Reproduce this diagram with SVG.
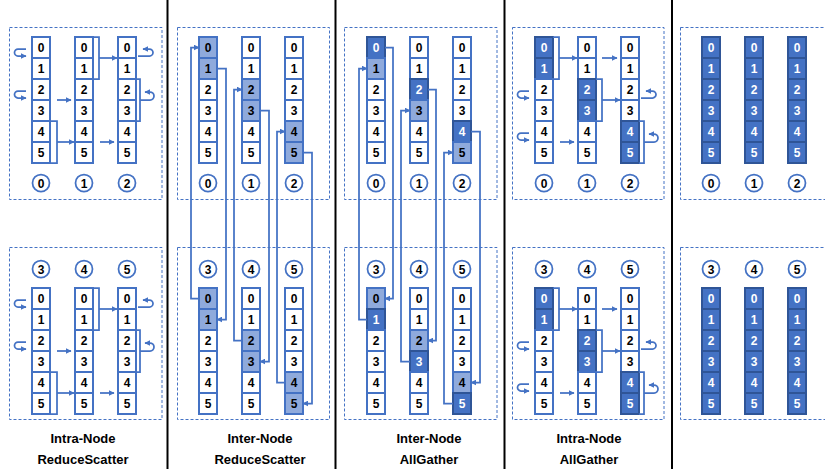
<svg xmlns="http://www.w3.org/2000/svg" width="825" height="469" viewBox="0 0 825 469">
<style>
.c{fill:#fff;stroke:#4472C4;stroke-width:2}
.l{fill:#8FAADC;stroke:#4472C4;stroke-width:2}
.d{fill:#4472C4;stroke:#2F5597;stroke-width:2}
text{font-family:"Liberation Sans",Arial,sans-serif;font-weight:bold;font-size:12px;text-anchor:middle;fill:#000}
text.w{fill:#fff}
.rk{fill:#fff;stroke:#4472C4;stroke-width:1.75}
text.cap{font-size:13px}
.box{fill:none;stroke:#4472C4;stroke-width:1;stroke-dasharray:3 2}
.sep{stroke:#000;stroke-width:2}
.cn{fill:none;stroke:#4472C4;stroke-width:1.75}
.ar{marker-end:url(#ah)}
</style>
<defs>
<marker id="ah" viewBox="0 0 10 10" refX="9" refY="5" markerWidth="6" markerHeight="6" markerUnits="userSpaceOnUse" orient="auto"><path d="M0,0 L10,5 L0,10 z" fill="#4472C4"/></marker>
</defs>
<rect width="825" height="469" fill="#fff"/>
<g id="frames">
<rect class="box" x="9.5" y="27.5" width="152.5" height="172"/>
<rect class="box" x="9.5" y="247.5" width="152.5" height="172"/>
<rect class="box" x="177.5" y="27.5" width="152" height="172"/>
<rect class="box" x="177.5" y="247.5" width="152" height="172"/>
<rect class="box" x="344.5" y="27.5" width="152.5" height="172"/>
<rect class="box" x="344.5" y="247.5" width="152.5" height="172"/>
<rect class="box" x="512.5" y="27.5" width="151.5" height="172"/>
<rect class="box" x="512.5" y="247.5" width="151.5" height="172"/>
<rect class="box" x="680.5" y="27.5" width="152" height="172"/>
<rect class="box" x="680.5" y="247.5" width="152" height="172"/>
<line class="sep" x1="167.5" y1="0" x2="167.5" y2="469"/>
<line class="sep" x1="335.5" y1="0" x2="335.5" y2="469"/>
<line class="sep" x1="504.5" y1="0" x2="504.5" y2="469"/>
<line class="sep" x1="672" y1="0" x2="672" y2="469"/>
</g>

<!-- Panel 1 -->
<g id="p1-t-c0" transform="translate(32,37)"><rect y="0" width="18" height="21" class="c"/><text x="9" y="15">0</text><rect y="21" width="18" height="21" class="c"/><text x="9" y="36">1</text><rect y="42" width="18" height="21" class="c"/><text x="9" y="57">2</text><rect y="63" width="18" height="21" class="c"/><text x="9" y="78">3</text><rect y="84" width="18" height="21" class="c"/><text x="9" y="99">4</text><rect y="105" width="18" height="21" class="c"/><text x="9" y="120">5</text></g>
<g id="p1-t-c1" transform="translate(75,37)"><rect y="0" width="18" height="21" class="c"/><text x="9" y="15">0</text><rect y="21" width="18" height="21" class="c"/><text x="9" y="36">1</text><rect y="42" width="18" height="21" class="c"/><text x="9" y="57">2</text><rect y="63" width="18" height="21" class="c"/><text x="9" y="78">3</text><rect y="84" width="18" height="21" class="c"/><text x="9" y="99">4</text><rect y="105" width="18" height="21" class="c"/><text x="9" y="120">5</text></g>
<g id="p1-t-c2" transform="translate(118,37)"><rect y="0" width="18" height="21" class="c"/><text x="9" y="15">0</text><rect y="21" width="18" height="21" class="c"/><text x="9" y="36">1</text><rect y="42" width="18" height="21" class="c"/><text x="9" y="57">2</text><rect y="63" width="18" height="21" class="c"/><text x="9" y="78">3</text><rect y="84" width="18" height="21" class="c"/><text x="9" y="99">4</text><rect y="105" width="18" height="21" class="c"/><text x="9" y="120">5</text></g>
<g id="p1-b-c0" transform="translate(32,288)"><rect y="0" width="18" height="21" class="c"/><text x="9" y="15">0</text><rect y="21" width="18" height="21" class="c"/><text x="9" y="36">1</text><rect y="42" width="18" height="21" class="c"/><text x="9" y="57">2</text><rect y="63" width="18" height="21" class="c"/><text x="9" y="78">3</text><rect y="84" width="18" height="21" class="c"/><text x="9" y="99">4</text><rect y="105" width="18" height="21" class="c"/><text x="9" y="120">5</text></g>
<g id="p1-b-c1" transform="translate(75,288)"><rect y="0" width="18" height="21" class="c"/><text x="9" y="15">0</text><rect y="21" width="18" height="21" class="c"/><text x="9" y="36">1</text><rect y="42" width="18" height="21" class="c"/><text x="9" y="57">2</text><rect y="63" width="18" height="21" class="c"/><text x="9" y="78">3</text><rect y="84" width="18" height="21" class="c"/><text x="9" y="99">4</text><rect y="105" width="18" height="21" class="c"/><text x="9" y="120">5</text></g>
<g id="p1-b-c2" transform="translate(118,288)"><rect y="0" width="18" height="21" class="c"/><text x="9" y="15">0</text><rect y="21" width="18" height="21" class="c"/><text x="9" y="36">1</text><rect y="42" width="18" height="21" class="c"/><text x="9" y="57">2</text><rect y="63" width="18" height="21" class="c"/><text x="9" y="78">3</text><rect y="84" width="18" height="21" class="c"/><text x="9" y="99">4</text><rect y="105" width="18" height="21" class="c"/><text x="9" y="120">5</text></g>
<g id="p1-rank0"><circle cx="41" cy="183" r="8.5" class="rk"/><text x="41" y="187.5">0</text></g>
<g id="p1-rank1"><circle cx="84" cy="183" r="8.5" class="rk"/><text x="84" y="187.5">1</text></g>
<g id="p1-rank2"><circle cx="127" cy="183" r="8.5" class="rk"/><text x="127" y="187.5">2</text></g>
<g id="p1-rank3"><circle cx="41" cy="269" r="8.5" class="rk"/><text x="41" y="273.5">3</text></g>
<g id="p1-rank4"><circle cx="84" cy="269" r="8.5" class="rk"/><text x="84" y="273.5">4</text></g>
<g id="p1-rank5"><circle cx="127" cy="269" r="8.5" class="rk"/><text x="127" y="273.5">5</text></g>

<!-- Panel 2 -->
<g id="p2-t-c0" transform="translate(199,37)"><rect y="0" width="18" height="21" class="l"/><text x="9" y="15">0</text><rect y="21" width="18" height="21" class="l"/><text x="9" y="36">1</text><rect y="42" width="18" height="21" class="c"/><text x="9" y="57">2</text><rect y="63" width="18" height="21" class="c"/><text x="9" y="78">3</text><rect y="84" width="18" height="21" class="c"/><text x="9" y="99">4</text><rect y="105" width="18" height="21" class="c"/><text x="9" y="120">5</text></g>
<g id="p2-t-c1" transform="translate(242,37)"><rect y="0" width="18" height="21" class="c"/><text x="9" y="15">0</text><rect y="21" width="18" height="21" class="c"/><text x="9" y="36">1</text><rect y="42" width="18" height="21" class="l"/><text x="9" y="57">2</text><rect y="63" width="18" height="21" class="l"/><text x="9" y="78">3</text><rect y="84" width="18" height="21" class="c"/><text x="9" y="99">4</text><rect y="105" width="18" height="21" class="c"/><text x="9" y="120">5</text></g>
<g id="p2-t-c2" transform="translate(285,37)"><rect y="0" width="18" height="21" class="c"/><text x="9" y="15">0</text><rect y="21" width="18" height="21" class="c"/><text x="9" y="36">1</text><rect y="42" width="18" height="21" class="c"/><text x="9" y="57">2</text><rect y="63" width="18" height="21" class="c"/><text x="9" y="78">3</text><rect y="84" width="18" height="21" class="l"/><text x="9" y="99">4</text><rect y="105" width="18" height="21" class="l"/><text x="9" y="120">5</text></g>
<g id="p2-b-c0" transform="translate(199,288)"><rect y="0" width="18" height="21" class="l"/><text x="9" y="15">0</text><rect y="21" width="18" height="21" class="l"/><text x="9" y="36">1</text><rect y="42" width="18" height="21" class="c"/><text x="9" y="57">2</text><rect y="63" width="18" height="21" class="c"/><text x="9" y="78">3</text><rect y="84" width="18" height="21" class="c"/><text x="9" y="99">4</text><rect y="105" width="18" height="21" class="c"/><text x="9" y="120">5</text></g>
<g id="p2-b-c1" transform="translate(242,288)"><rect y="0" width="18" height="21" class="c"/><text x="9" y="15">0</text><rect y="21" width="18" height="21" class="c"/><text x="9" y="36">1</text><rect y="42" width="18" height="21" class="l"/><text x="9" y="57">2</text><rect y="63" width="18" height="21" class="l"/><text x="9" y="78">3</text><rect y="84" width="18" height="21" class="c"/><text x="9" y="99">4</text><rect y="105" width="18" height="21" class="c"/><text x="9" y="120">5</text></g>
<g id="p2-b-c2" transform="translate(285,288)"><rect y="0" width="18" height="21" class="c"/><text x="9" y="15">0</text><rect y="21" width="18" height="21" class="c"/><text x="9" y="36">1</text><rect y="42" width="18" height="21" class="c"/><text x="9" y="57">2</text><rect y="63" width="18" height="21" class="c"/><text x="9" y="78">3</text><rect y="84" width="18" height="21" class="l"/><text x="9" y="99">4</text><rect y="105" width="18" height="21" class="l"/><text x="9" y="120">5</text></g>
<g id="p2-rank0"><circle cx="208" cy="183" r="8.5" class="rk"/><text x="208" y="187.5">0</text></g>
<g id="p2-rank1"><circle cx="251" cy="183" r="8.5" class="rk"/><text x="251" y="187.5">1</text></g>
<g id="p2-rank2"><circle cx="294" cy="183" r="8.5" class="rk"/><text x="294" y="187.5">2</text></g>
<g id="p2-rank3"><circle cx="208" cy="269" r="8.5" class="rk"/><text x="208" y="273.5">3</text></g>
<g id="p2-rank4"><circle cx="251" cy="269" r="8.5" class="rk"/><text x="251" y="273.5">4</text></g>
<g id="p2-rank5"><circle cx="294" cy="269" r="8.5" class="rk"/><text x="294" y="273.5">5</text></g>

<!-- Panel 3 -->
<g id="p3-t-c0" transform="translate(367,37)"><rect y="0" width="18" height="21" class="d"/><text class="w" x="9" y="15">0</text><rect y="21" width="18" height="21" class="l"/><text x="9" y="36">1</text><rect y="42" width="18" height="21" class="c"/><text x="9" y="57">2</text><rect y="63" width="18" height="21" class="c"/><text x="9" y="78">3</text><rect y="84" width="18" height="21" class="c"/><text x="9" y="99">4</text><rect y="105" width="18" height="21" class="c"/><text x="9" y="120">5</text></g>
<g id="p3-t-c1" transform="translate(410,37)"><rect y="0" width="18" height="21" class="c"/><text x="9" y="15">0</text><rect y="21" width="18" height="21" class="c"/><text x="9" y="36">1</text><rect y="42" width="18" height="21" class="d"/><text class="w" x="9" y="57">2</text><rect y="63" width="18" height="21" class="l"/><text x="9" y="78">3</text><rect y="84" width="18" height="21" class="c"/><text x="9" y="99">4</text><rect y="105" width="18" height="21" class="c"/><text x="9" y="120">5</text></g>
<g id="p3-t-c2" transform="translate(453,37)"><rect y="0" width="18" height="21" class="c"/><text x="9" y="15">0</text><rect y="21" width="18" height="21" class="c"/><text x="9" y="36">1</text><rect y="42" width="18" height="21" class="c"/><text x="9" y="57">2</text><rect y="63" width="18" height="21" class="c"/><text x="9" y="78">3</text><rect y="84" width="18" height="21" class="d"/><text class="w" x="9" y="99">4</text><rect y="105" width="18" height="21" class="l"/><text x="9" y="120">5</text></g>
<g id="p3-b-c0" transform="translate(367,288)"><rect y="0" width="18" height="21" class="l"/><text x="9" y="15">0</text><rect y="21" width="18" height="21" class="d"/><text class="w" x="9" y="36">1</text><rect y="42" width="18" height="21" class="c"/><text x="9" y="57">2</text><rect y="63" width="18" height="21" class="c"/><text x="9" y="78">3</text><rect y="84" width="18" height="21" class="c"/><text x="9" y="99">4</text><rect y="105" width="18" height="21" class="c"/><text x="9" y="120">5</text></g>
<g id="p3-b-c1" transform="translate(410,288)"><rect y="0" width="18" height="21" class="c"/><text x="9" y="15">0</text><rect y="21" width="18" height="21" class="c"/><text x="9" y="36">1</text><rect y="42" width="18" height="21" class="l"/><text x="9" y="57">2</text><rect y="63" width="18" height="21" class="d"/><text class="w" x="9" y="78">3</text><rect y="84" width="18" height="21" class="c"/><text x="9" y="99">4</text><rect y="105" width="18" height="21" class="c"/><text x="9" y="120">5</text></g>
<g id="p3-b-c2" transform="translate(453,288)"><rect y="0" width="18" height="21" class="c"/><text x="9" y="15">0</text><rect y="21" width="18" height="21" class="c"/><text x="9" y="36">1</text><rect y="42" width="18" height="21" class="c"/><text x="9" y="57">2</text><rect y="63" width="18" height="21" class="c"/><text x="9" y="78">3</text><rect y="84" width="18" height="21" class="l"/><text x="9" y="99">4</text><rect y="105" width="18" height="21" class="d"/><text class="w" x="9" y="120">5</text></g>
<g id="p3-rank0"><circle cx="376" cy="183" r="8.5" class="rk"/><text x="376" y="187.5">0</text></g>
<g id="p3-rank1"><circle cx="419" cy="183" r="8.5" class="rk"/><text x="419" y="187.5">1</text></g>
<g id="p3-rank2"><circle cx="462" cy="183" r="8.5" class="rk"/><text x="462" y="187.5">2</text></g>
<g id="p3-rank3"><circle cx="376" cy="269" r="8.5" class="rk"/><text x="376" y="273.5">3</text></g>
<g id="p3-rank4"><circle cx="419" cy="269" r="8.5" class="rk"/><text x="419" y="273.5">4</text></g>
<g id="p3-rank5"><circle cx="462" cy="269" r="8.5" class="rk"/><text x="462" y="273.5">5</text></g>

<!-- Panel 4 -->
<g id="p4-t-c0" transform="translate(535,37)"><rect y="0" width="18" height="21" class="d"/><text class="w" x="9" y="15">0</text><rect y="21" width="18" height="21" class="d"/><text class="w" x="9" y="36">1</text><rect y="42" width="18" height="21" class="c"/><text x="9" y="57">2</text><rect y="63" width="18" height="21" class="c"/><text x="9" y="78">3</text><rect y="84" width="18" height="21" class="c"/><text x="9" y="99">4</text><rect y="105" width="18" height="21" class="c"/><text x="9" y="120">5</text></g>
<g id="p4-t-c1" transform="translate(578,37)"><rect y="0" width="18" height="21" class="c"/><text x="9" y="15">0</text><rect y="21" width="18" height="21" class="c"/><text x="9" y="36">1</text><rect y="42" width="18" height="21" class="d"/><text class="w" x="9" y="57">2</text><rect y="63" width="18" height="21" class="d"/><text class="w" x="9" y="78">3</text><rect y="84" width="18" height="21" class="c"/><text x="9" y="99">4</text><rect y="105" width="18" height="21" class="c"/><text x="9" y="120">5</text></g>
<g id="p4-t-c2" transform="translate(621,37)"><rect y="0" width="18" height="21" class="c"/><text x="9" y="15">0</text><rect y="21" width="18" height="21" class="c"/><text x="9" y="36">1</text><rect y="42" width="18" height="21" class="c"/><text x="9" y="57">2</text><rect y="63" width="18" height="21" class="c"/><text x="9" y="78">3</text><rect y="84" width="18" height="21" class="d"/><text class="w" x="9" y="99">4</text><rect y="105" width="18" height="21" class="d"/><text class="w" x="9" y="120">5</text></g>
<g id="p4-b-c0" transform="translate(535,288)"><rect y="0" width="18" height="21" class="d"/><text class="w" x="9" y="15">0</text><rect y="21" width="18" height="21" class="d"/><text class="w" x="9" y="36">1</text><rect y="42" width="18" height="21" class="c"/><text x="9" y="57">2</text><rect y="63" width="18" height="21" class="c"/><text x="9" y="78">3</text><rect y="84" width="18" height="21" class="c"/><text x="9" y="99">4</text><rect y="105" width="18" height="21" class="c"/><text x="9" y="120">5</text></g>
<g id="p4-b-c1" transform="translate(578,288)"><rect y="0" width="18" height="21" class="c"/><text x="9" y="15">0</text><rect y="21" width="18" height="21" class="c"/><text x="9" y="36">1</text><rect y="42" width="18" height="21" class="d"/><text class="w" x="9" y="57">2</text><rect y="63" width="18" height="21" class="d"/><text class="w" x="9" y="78">3</text><rect y="84" width="18" height="21" class="c"/><text x="9" y="99">4</text><rect y="105" width="18" height="21" class="c"/><text x="9" y="120">5</text></g>
<g id="p4-b-c2" transform="translate(621,288)"><rect y="0" width="18" height="21" class="c"/><text x="9" y="15">0</text><rect y="21" width="18" height="21" class="c"/><text x="9" y="36">1</text><rect y="42" width="18" height="21" class="c"/><text x="9" y="57">2</text><rect y="63" width="18" height="21" class="c"/><text x="9" y="78">3</text><rect y="84" width="18" height="21" class="d"/><text class="w" x="9" y="99">4</text><rect y="105" width="18" height="21" class="d"/><text class="w" x="9" y="120">5</text></g>
<g id="p4-rank0"><circle cx="544" cy="183" r="8.5" class="rk"/><text x="544" y="187.5">0</text></g>
<g id="p4-rank1"><circle cx="587" cy="183" r="8.5" class="rk"/><text x="587" y="187.5">1</text></g>
<g id="p4-rank2"><circle cx="630" cy="183" r="8.5" class="rk"/><text x="630" y="187.5">2</text></g>
<g id="p4-rank3"><circle cx="544" cy="269" r="8.5" class="rk"/><text x="544" y="273.5">3</text></g>
<g id="p4-rank4"><circle cx="587" cy="269" r="8.5" class="rk"/><text x="587" y="273.5">4</text></g>
<g id="p4-rank5"><circle cx="630" cy="269" r="8.5" class="rk"/><text x="630" y="273.5">5</text></g>

<!-- Panel 5 -->
<g id="p5-t-c0" transform="translate(702,37)"><rect y="0" width="18" height="21" class="d"/><text class="w" x="9" y="15">0</text><rect y="21" width="18" height="21" class="d"/><text class="w" x="9" y="36">1</text><rect y="42" width="18" height="21" class="d"/><text class="w" x="9" y="57">2</text><rect y="63" width="18" height="21" class="d"/><text class="w" x="9" y="78">3</text><rect y="84" width="18" height="21" class="d"/><text class="w" x="9" y="99">4</text><rect y="105" width="18" height="21" class="d"/><text class="w" x="9" y="120">5</text></g>
<g id="p5-t-c1" transform="translate(745,37)"><rect y="0" width="18" height="21" class="d"/><text class="w" x="9" y="15">0</text><rect y="21" width="18" height="21" class="d"/><text class="w" x="9" y="36">1</text><rect y="42" width="18" height="21" class="d"/><text class="w" x="9" y="57">2</text><rect y="63" width="18" height="21" class="d"/><text class="w" x="9" y="78">3</text><rect y="84" width="18" height="21" class="d"/><text class="w" x="9" y="99">4</text><rect y="105" width="18" height="21" class="d"/><text class="w" x="9" y="120">5</text></g>
<g id="p5-t-c2" transform="translate(788,37)"><rect y="0" width="18" height="21" class="d"/><text class="w" x="9" y="15">0</text><rect y="21" width="18" height="21" class="d"/><text class="w" x="9" y="36">1</text><rect y="42" width="18" height="21" class="d"/><text class="w" x="9" y="57">2</text><rect y="63" width="18" height="21" class="d"/><text class="w" x="9" y="78">3</text><rect y="84" width="18" height="21" class="d"/><text class="w" x="9" y="99">4</text><rect y="105" width="18" height="21" class="d"/><text class="w" x="9" y="120">5</text></g>
<g id="p5-b-c0" transform="translate(702,288)"><rect y="0" width="18" height="21" class="d"/><text class="w" x="9" y="15">0</text><rect y="21" width="18" height="21" class="d"/><text class="w" x="9" y="36">1</text><rect y="42" width="18" height="21" class="d"/><text class="w" x="9" y="57">2</text><rect y="63" width="18" height="21" class="d"/><text class="w" x="9" y="78">3</text><rect y="84" width="18" height="21" class="d"/><text class="w" x="9" y="99">4</text><rect y="105" width="18" height="21" class="d"/><text class="w" x="9" y="120">5</text></g>
<g id="p5-b-c1" transform="translate(745,288)"><rect y="0" width="18" height="21" class="d"/><text class="w" x="9" y="15">0</text><rect y="21" width="18" height="21" class="d"/><text class="w" x="9" y="36">1</text><rect y="42" width="18" height="21" class="d"/><text class="w" x="9" y="57">2</text><rect y="63" width="18" height="21" class="d"/><text class="w" x="9" y="78">3</text><rect y="84" width="18" height="21" class="d"/><text class="w" x="9" y="99">4</text><rect y="105" width="18" height="21" class="d"/><text class="w" x="9" y="120">5</text></g>
<g id="p5-b-c2" transform="translate(788,288)"><rect y="0" width="18" height="21" class="d"/><text class="w" x="9" y="15">0</text><rect y="21" width="18" height="21" class="d"/><text class="w" x="9" y="36">1</text><rect y="42" width="18" height="21" class="d"/><text class="w" x="9" y="57">2</text><rect y="63" width="18" height="21" class="d"/><text class="w" x="9" y="78">3</text><rect y="84" width="18" height="21" class="d"/><text class="w" x="9" y="99">4</text><rect y="105" width="18" height="21" class="d"/><text class="w" x="9" y="120">5</text></g>
<g id="p5-rank0"><circle cx="711" cy="183" r="8.5" class="rk"/><text x="711" y="187.5">0</text></g>
<g id="p5-rank1"><circle cx="754" cy="183" r="8.5" class="rk"/><text x="754" y="187.5">1</text></g>
<g id="p5-rank2"><circle cx="797" cy="183" r="8.5" class="rk"/><text x="797" y="187.5">2</text></g>
<g id="p5-rank3"><circle cx="711" cy="269" r="8.5" class="rk"/><text x="711" y="273.5">3</text></g>
<g id="p5-rank4"><circle cx="754" cy="269" r="8.5" class="rk"/><text x="754" y="273.5">4</text></g>
<g id="p5-rank5"><circle cx="797" cy="269" r="8.5" class="rk"/><text x="797" y="273.5">5</text></g>

<g id="connectors">
<!-- Panel 1 top -->
<path class="cn ar" d="M26,49 H18 a3.5,3.5 0 0 0 0,7 H26"/>
<path class="cn ar" d="M26,91 H18 a3.5,3.5 0 0 0 0,7 H26"/>
<path class="cn" d="M50,121 H57 V163 H50"/>
<path class="cn ar" d="M57,142 H74"/>
<path class="cn ar" d="M57,100 H71"/>
<path class="cn" d="M93,37 H99 V79 H93"/>
<path class="cn ar" d="M99,58 H117"/>
<path class="cn ar" d="M100,142 H114"/>
<path class="cn ar" d="M138,56 H149.5 a3.5,3.5 0 0 0 0,-7 H143"/>
<path class="cn" d="M136,79 H140 V121 H136"/>
<path class="cn ar" d="M140,100 H150 a4,4 0 0 0 0,-8 H145"/>
<!-- Panel 1 bottom -->
<path class="cn ar" d="M26,300 H18 a3.5,3.5 0 0 0 0,7 H26"/>
<path class="cn ar" d="M26,342 H18 a3.5,3.5 0 0 0 0,7 H26"/>
<path class="cn" d="M50,372 H57 V414 H50"/>
<path class="cn ar" d="M57,393 H74"/>
<path class="cn ar" d="M57,351 H71"/>
<path class="cn" d="M93,288 H99 V330 H93"/>
<path class="cn ar" d="M99,309 H117"/>
<path class="cn ar" d="M100,393 H114"/>
<path class="cn ar" d="M138,307 H149.5 a3.5,3.5 0 0 0 0,-7 H143"/>
<path class="cn" d="M136,330 H140 V372 H136"/>
<path class="cn ar" d="M140,351 H150 a4,4 0 0 0 0,-8 H145"/>
<!-- Panel 2 -->
<path class="cn ar" d="M217,68.5 H226 V319.5 H217"/>
<path class="cn ar" d="M199,298.5 H191 V47.5 H199"/>
<path class="cn ar" d="M260,110.5 H269 V361.5 H260"/>
<path class="cn ar" d="M242,340.5 H234 V89.5 H242"/>
<path class="cn ar" d="M303,152.5 H312 V403.5 H303"/>
<path class="cn ar" d="M285,382.5 H277 V131.5 H285"/>
<!-- Panel 3 -->
<path class="cn ar" d="M385,47.5 H393 V298.5 H385"/>
<path class="cn ar" d="M367,319.5 H359 V68.5 H367"/>
<path class="cn ar" d="M428,89.5 H436 V340.5 H428"/>
<path class="cn ar" d="M410,361.5 H401 V110.5 H410"/>
<path class="cn ar" d="M471,131.5 H480 V382.5 H471"/>
<path class="cn ar" d="M453,403.5 H444 V152.5 H453"/>
<!-- Panel 4 top -->
<path class="cn" d="M553,37 H559 V79 H553"/>
<path class="cn ar" d="M559,58 H577"/>
<path class="cn ar" d="M602,58 H617"/>
<path class="cn" d="M596,79 H602 V121 H596"/>
<path class="cn ar" d="M602,100 H620"/>
<path class="cn ar" d="M529,91 H521 a3.5,3.5 0 0 0 0,7 H529"/>
<path class="cn ar" d="M529,133 H521 a3.5,3.5 0 0 0 0,7 H529"/>
<path class="cn ar" d="M560,142 H574"/>
<path class="cn ar" d="M641,98 H652.5 a3.5,3.5 0 0 0 0,-7 H646"/>
<path class="cn" d="M639,121 H644 V163 H639"/>
<path class="cn ar" d="M644,142 H654 a4,4 0 0 0 0,-8 H649"/>
<!-- Panel 4 bottom -->
<path class="cn" d="M553,288 H559 V330 H553"/>
<path class="cn ar" d="M559,309 H577"/>
<path class="cn ar" d="M602,309 H617"/>
<path class="cn" d="M596,330 H602 V372 H596"/>
<path class="cn ar" d="M602,351 H620"/>
<path class="cn ar" d="M529,342 H521 a3.5,3.5 0 0 0 0,7 H529"/>
<path class="cn ar" d="M529,384 H521 a3.5,3.5 0 0 0 0,7 H529"/>
<path class="cn ar" d="M560,393 H574"/>
<path class="cn ar" d="M641,349 H652.5 a3.5,3.5 0 0 0 0,-7 H646"/>
<path class="cn" d="M639,372 H644 V414 H639"/>
<path class="cn ar" d="M644,393 H654 a4,4 0 0 0 0,-8 H649"/>
</g>

<g id="captions">
<text class="cap" x="83" y="443">Intra-Node</text>
<text class="cap" x="83" y="464">ReduceScatter</text>
<text class="cap" x="260" y="443">Inter-Node</text>
<text class="cap" x="260" y="464">ReduceScatter</text>
<text class="cap" x="429" y="443">Inter-Node</text>
<text class="cap" x="429" y="464">AllGather</text>
<text class="cap" x="589" y="443">Intra-Node</text>
<text class="cap" x="589" y="464">AllGather</text>
</g>
</svg>
